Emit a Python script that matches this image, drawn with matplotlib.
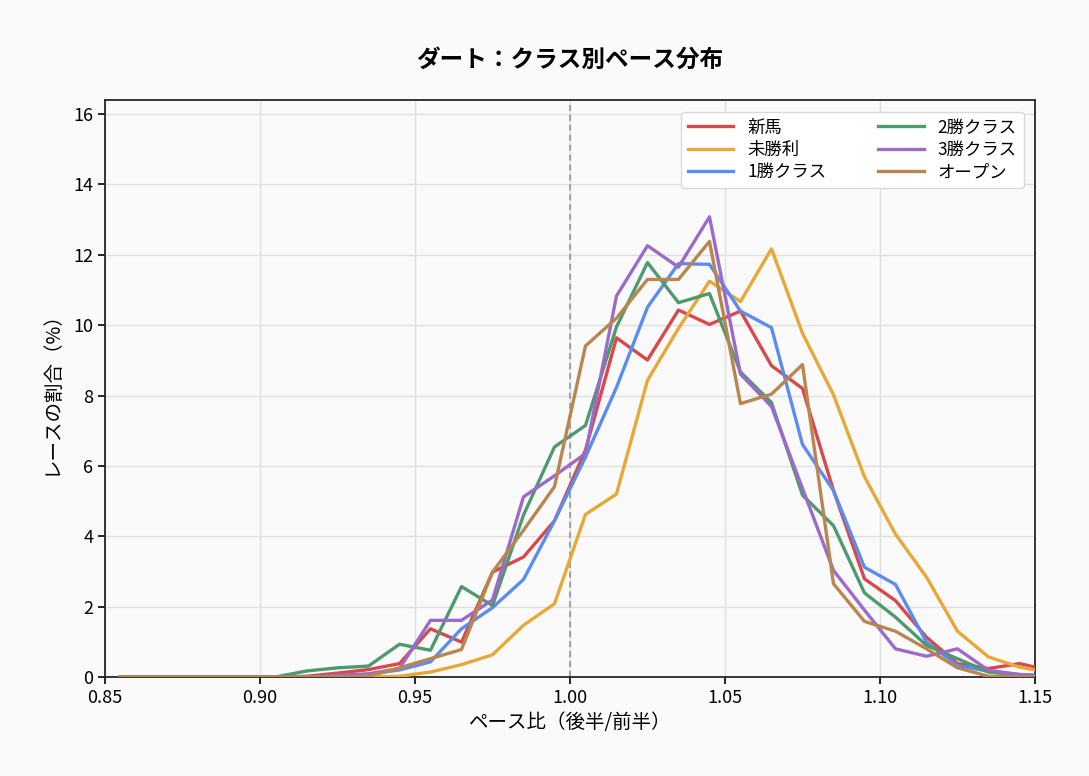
import matplotlib

matplotlib.use("Agg")
import matplotlib.pyplot as plt
import numpy as np

plt.rcParams["font.family"] = ["Noto Sans CJK JP", "DejaVu Sans"]

# bin centres of the pace ratio (second half / first half)
pace_bins = np.round(np.arange(0.855, 1.16, 0.01), 3)

shinba = [0, 0, 0, 0, 0, 0, 0.02, 0.11, 0.21, 0.38, 1.37, 0.99, 2.98, 3.41, 4.44, 6.45,
          9.64, 9.01, 10.43, 10.02, 10.4, 8.85, 8.2, 5.3, 2.79, 2.17, 1.13, 0.38, 0.24, 0.38, 0.18]
mishori = [0, 0, 0, 0, 0, 0, 0, 0, 0, 0.02, 0.14, 0.35, 0.63, 1.47, 2.08, 4.62,
           5.2, 8.43, 9.91, 11.25, 10.67, 12.17, 9.77, 8.02, 5.69, 4.06, 2.84, 1.3, 0.57, 0.28, 0.12]
win1 = [0, 0, 0, 0, 0, 0, 0, 0.03, 0.08, 0.2, 0.43, 1.37, 1.97, 2.77, 4.44, 6.25,
        8.23, 10.51, 11.75, 11.73, 10.4, 9.93, 6.61, 5.3, 3.12, 2.63, 0.99, 0.33, 0.16, 0.07, 0.05]
win2 = [0, 0, 0, 0, 0, 0, 0.17, 0.26, 0.31, 0.93, 0.76, 2.57, 2.03, 4.6, 6.54, 7.15,
        9.95, 11.78, 10.64, 10.9, 8.67, 7.8, 5.17, 4.3, 2.39, 1.7, 0.9, 0.52, 0.14, 0.05, 0]
win3 = [0, 0, 0, 0, 0, 0, 0, 0.04, 0.09, 0.24, 1.61, 1.61, 2.19, 5.12, 5.72, 6.35,
        10.83, 12.26, 11.65, 13.08, 8.61, 7.69, 5.36, 3.03, 1.9, 0.8, 0.59, 0.8, 0.19, 0.07, 0]
open_cls = [0, 0, 0, 0, 0, 0, 0, 0, 0.02, 0.26, 0.52, 0.78, 2.98, 4.17, 5.41, 9.41,
            10.2, 11.3, 11.3, 12.38, 7.77, 8.04, 8.88, 2.65, 1.58, 1.3, 0.8, 0.26, 0.02, 0, 0]

class_names = ["新馬", "未勝利", "1勝クラス", "2勝クラス", "3勝クラス", "オープン"]
class_values = [shinba, mishori, win1, win2, win3, open_cls]
class_colors = ["#d9484a", "#e8a838", "#5b8def", "#4e9a6e", "#9b6bc9", "#b8864e"]

bg = "#fafafa"
fig = plt.figure(figsize=(10.89, 7.76), dpi=100, facecolor=bg)
ax = fig.add_axes([0.0964, 0.1276, 0.854, 0.7435], facecolor=bg)

for name, vals, color in zip(class_names, class_values, class_colors):
    ax.plot(pace_bins, vals, lw=2.4, color=color, label=name, zorder=3)

ax.axvline(1.0, color="0.55", lw=1.1, ls=(0, (4, 2.5)), zorder=2)

ax.set_xlim(0.85, 1.15)
ax.set_ylim(0, 16.4)
ax.set_xticks(np.arange(0.85, 1.151, 0.05))
ax.set_xticklabels([f"{v:.2f}" for v in np.arange(0.85, 1.151, 0.05)])
ax.set_yticks(range(0, 17, 2))
ax.tick_params(labelsize=13, width=1.2, length=5)
ax.grid(True, color="0.88", lw=1.0)
ax.set_axisbelow(True)
for sp in ax.spines.values():
    sp.set_linewidth(1.3)
    sp.set_color("0.15")

ax.set_xlabel("ペース比（後半/前半）", fontsize=14, labelpad=4)
ax.set_ylabel("レースの割合（%）", fontsize=14, labelpad=8)
ax.set_title("ダート：クラス別ペース分布", fontsize=17, fontweight="bold", pad=24)

ax.legend(loc="upper right", ncol=2, fontsize=12.5, frameon=True, framealpha=1.0,
          facecolor="white", edgecolor="0.85", handlelength=2.6, columnspacing=3.0,
          labelspacing=0.25, borderpad=0.4, bbox_to_anchor=(0.997, 0.995))

fig.savefig("out.png", dpi=100, facecolor=bg)
plt.close(fig)
